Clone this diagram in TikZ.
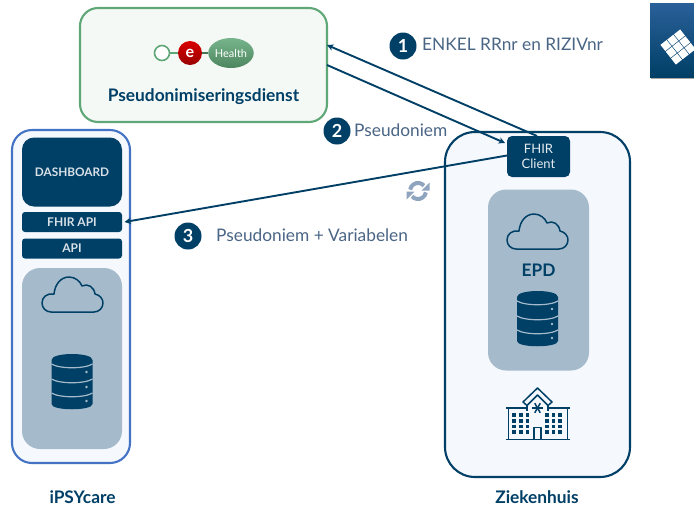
\documentclass[tikz,border=0pt]{standalone}
\usepackage{fontspec}
\setmainfont{Lato}
\usetikzlibrary{arrows.meta,shapes.geometric}
\definecolor{navy}{HTML}{003F66}
\definecolor{logotop}{HTML}{2A6099}
\definecolor{soft}{HTML}{A5BBCB}
\definecolor{pale}{HTML}{F5F8FD}
\definecolor{greenline}{HTML}{5FA777}
\definecolor{greenfill}{HTML}{F4F9F6}
\definecolor{iblue}{HTML}{4472C4}
\definecolor{labelc}{HTML}{4A6585}
\definecolor{syncc}{HTML}{8FA5BF}
\newcommand{\fs}[1]{\fontsize{#1}{#1}\selectfont}
\tikzset{
  x=1pt,y=-1pt,
  bx/.style={inner sep=0pt,outer sep=0pt,align=center},
  navybox/.style={bx,fill=navy,text=white,rounded corners=#1},
  softbox/.style={bx,fill=soft,rounded corners=18pt},
  badge/.style={circle,fill=navy,text=white,inner sep=0pt,minimum size=27pt,font=\fs{18}\bfseries},
  flowlabel/.style={inner sep=0pt,anchor=west,text=labelc,font=\fs{17.3}},
  title/.style={inner sep=0pt,text=navy,font=\fs{17.3}\bfseries},
  flow/.style={draw=navy,line width=1.9pt,-{Stealth[length=6.5pt,width=6.5pt]}},
  iconline/.style={draw=navy,line width=1.5pt,line join=round},
}
\newcommand{\cloudicon}[2]{%
  \draw[iconline,shift={(#1,#2)}] (9,36) .. controls (4,36) and (0,32) .. (0,27)
    .. controls (0,21) and (5,17) .. (12,18) .. controls (13,8) and (19,1) .. (27,1)
    .. controls (33,1) and (38,5) .. (40,10) .. controls (46,7) and (52,11) .. (53,18)
    .. controls (58,19) and (61,23) .. (61,27) .. controls (61,32) and (57,36) .. (52,36) -- cycle;}
\newcommand{\dbicon}[2]{%
  \begin{scope}[shift={(#1,#2)}]
    \fill[navy] (0,6) .. controls (0,-2) and (41,-2) .. (41,6) -- (41,50)
      .. controls (41,57) and (0,57) .. (0,50) -- cycle;
    \foreach \yy in {10,25,39}
      \draw[soft,line width=1.2pt] (0,\yy) .. controls (8,\yy+5) and (33,\yy+5) .. (41,\yy);
    \foreach \yy in {18,33,47}
      \fill[soft] (35,\yy) circle[radius=1.4pt];
  \end{scope}}
\begin{document}
\begin{tikzpicture}
\useasboundingbox (0,0) rectangle (694,507);
\fill[white] (0,0) rectangle (694,507);

% Logo top right
\fill[black!35] (651,4) rectangle (694,78.5);
\shade[top color=logotop,bottom color=navy] (650,3) rectangle (694,77);
\begin{scope}
  \clip (650,3) rectangle (694,77);
  \begin{scope}[shift={(678,47)},rotate=38]
    \foreach \i in {-1,0,1} \foreach \j in {-1,0,1}
      \fill[white] (\i*8.6-3.9,\j*8.6-3.9) rectangle (\i*8.6+3.9,\j*8.6+3.9);
  \end{scope}
\end{scope}

% Main containers
\node[bx,draw=greenline,fill=greenfill,line width=2.1pt,rounded corners=18pt,minimum width=247pt,minimum height=114pt] (pseudo) at (203.5,65) {};
\node[bx,draw=iblue,fill=pale,line width=2.1pt,rounded corners=20pt,minimum width=118pt,minimum height=333pt] (ipsy) at (71,296.5) {};
\node[bx,draw=navy,fill=pale,line width=2.1pt,rounded corners=30pt,minimum width=185pt,minimum height=345pt] (zkh) at (537.5,304.5) {};

% eHealth logo
\node[circle,draw=greenline,fill=white,line width=1.6pt,minimum size=15pt,inner sep=0pt] (ehring) at (162,53) {};
\node[circle,top color=red!85!black,bottom color=red!60!black,minimum size=24pt,inner sep=0pt,text=white,font=\fs{16}\bfseries] (ehe) at (190,53) {e};
\node[ellipse,top color=greenline!85!white,bottom color=greenline!80!black,minimum width=42pt,minimum height=30pt,inner sep=0pt,text=white,font=\fs{11}] (ehh) at (231,53) {Health};
\draw[greenline,line width=1.6pt] (ehring) -- (ehe);
\draw[greenline!70!black,line width=1.4pt] (ehe) -- (ehh);
\node[title] (pseudot) at (203.5,97) {Pseudonimiseringsdienst};

% iPSYcare
\node[navybox=12pt,minimum width=100pt,minimum height=69pt,font=\fs{11.8}\bfseries,text=white!85!navy] (dash) at (72,172) {DASHBOARD};
\node[navybox=3pt,minimum width=100pt,minimum height=20pt,font=\fs{12}\bfseries,text=white!85!navy] (fhirapi) at (72,222) {FHIR API};
\node[navybox=3pt,minimum width=100pt,minimum height=20pt,font=\fs{12}\bfseries,text=white!85!navy] (api) at (72,248.5) {API};
\node[softbox,minimum width=100pt,minimum height=181pt] (ipsysoft) at (72,358.5) {};
\cloudicon{42}{276}
\dbicon{51.5}{354}
\node[title] (ipsyt) at (82.5,497) {iPSYcare};

% Ziekenhuis
\node[navybox=5pt,minimum width=63pt,minimum height=41pt,font=\fs{13},text=white!90!navy] (client) at (538.5,156.5) {FHIR\\[2pt]Client};
\node[softbox,minimum width=101pt,minimum height=181pt] (epd) at (538.5,280) {};
\cloudicon{507}{213}
\node[inner sep=0pt,text=navy,font=\fs{17.3}\bfseries] (epdt) at (538.5,270) {EPD};
\dbicon{517}{291}
\node[title] (zkht) at (537,497) {Ziekenhuis};

% Hospital icon
\begin{scope}[shift={(506,387)}]
  \draw[iconline] (17,15) -- (31.5,1) -- (46,15) -- (42,18.5) -- (31.5,8) -- (21,18.5) -- cycle;
  \draw[iconline] (0,21) -- (21,21) (42,21) -- (64,21);
  \draw[iconline] (2.5,21) -- (2.5,52) (61.5,21) -- (61.5,52) (0,52.5) -- (64,52.5);
  \draw[iconline] (21,18) -- (21,24) (42,18) -- (42,24);
  \draw[iconline] (28,52) -- (28,40.5) -- (35,40.5) -- (35,52);
  \foreach \xx in {8,15,21.5,41,47.5,54} \foreach \yy in {28,34,39.5,45}
    \fill[navy] (\xx-1.6,\yy-1.6) rectangle (\xx+1.6,\yy+1.6);
  \foreach \a in {0,60,120}
    \draw[navy,line width=1.5pt] (31.5,21)++(\a:5.5) -- ++(\a+180:11);
\end{scope}

% Sync icon
\begin{scope}[shift={(418,191)},y=1pt]
  \draw[syncc,line width=4pt] (170:8) arc[start angle=170,end angle=42,radius=8pt];
  \fill[syncc] (11.5,8.5) -- (11.5,0.5) -- (3.5,0.5) -- cycle;
  \draw[syncc,line width=4pt] (-10:8) arc[start angle=-10,end angle=-138,radius=8pt];
  \fill[syncc] (-11.5,-8.5) -- (-11.5,-0.5) -- (-3.5,-0.5) -- cycle;
\end{scope}

% Connectors
\path[flow] ([xshift=-1.5pt]client.north) -- ([yshift=-37pt]pseudo.north east);
\path[flow] ([yshift=-57pt]pseudo.north east) -- ([xshift=-2pt,yshift=-7pt]client.north west);
\path[flow] ([yshift=1pt]client.west) -- ([xshift=2.5pt]fhirapi.east);

% Flow labels
\node[badge] (b1) at (403,46) {1};
\node[flowlabel] (l1) at (422,44) {ENKEL RRnr en RIZIVnr};
\node[badge] (b2) at (337,131) {2};
\node[flowlabel] (l2) at (354,130) {Pseudoniem};
\node[badge] (b3) at (188,236) {3};
\node[flowlabel] (l3) at (216,235) {Pseudoniem + Variabelen};
\end{tikzpicture}
\end{document}
